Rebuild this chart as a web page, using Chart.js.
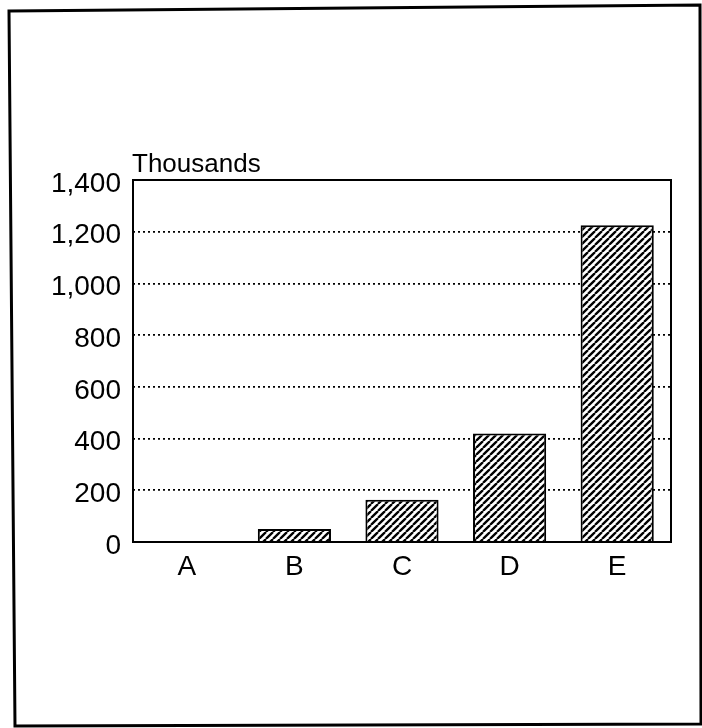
<!DOCTYPE html>
<html>
<head>
<meta charset="utf-8">
<script src="https://cdn.jsdelivr.net/npm/chart.js@4/dist/chart.umd.min.js"></script>
<style>
  html, body { margin: 0; padding: 0; background: #fff; }
  #wrap { width: 702px; height: 728px; position: relative; }
</style>
</head>
<body>
<div id="wrap"><canvas id="c" width="702" height="728"></canvas></div>
<script>
const categories = ['A', 'B', 'C', 'D', 'E'];
const values = [4, 50, 163, 420, 1225];
const yTicks = [0, 200, 400, 600, 800, 1000, 1200, 1400];
const unitLabel = 'Thousands';

function makeHatch() {
  const s = 7;
  const cv = document.createElement('canvas');
  cv.width = s; cv.height = s;
  const g = cv.getContext('2d');
  g.fillStyle = '#fff';
  g.fillRect(0, 0, s, s);
  g.strokeStyle = '#000';
  g.lineWidth = 2.3;
  g.beginPath();
  for (const k of [-s, 0, s]) {
    g.moveTo(k, s);
    g.lineTo(k + s, 0);
  }
  g.stroke();
  return g.createPattern(cv, 'repeat');
}

const FONT = "'Liberation Sans', Arial, sans-serif";

const decor = {
  id: 'decor',
  beforeDraw(chart) {
    const ctx = chart.ctx;
    ctx.save();
    ctx.fillStyle = '#fff';
    ctx.fillRect(0, 0, chart.width, chart.height);
    ctx.restore();
  },
  afterDraw(chart) {
    const ctx = chart.ctx;
    const a = chart.chartArea;
    ctx.save();
    // outer frame
    ctx.strokeStyle = '#000';
    ctx.lineWidth = 3;
    ctx.beginPath();
    ctx.moveTo(9, 11);
    ctx.lineTo(700, 5);
    ctx.lineTo(701, 724);
    ctx.lineTo(15, 726);
    ctx.closePath();
    ctx.stroke();
    // plot box
    ctx.lineWidth = 2;
    ctx.strokeRect(a.left, a.top, a.right - a.left, a.bottom - a.top);
    // unit label
    ctx.fillStyle = '#000';
    ctx.font = '26px ' + FONT;
    ctx.textAlign = 'left';
    ctx.textBaseline = 'alphabetic';
    ctx.fillText(unitLabel, a.left - 1, a.top - 8);
    ctx.restore();
  }
};

new Chart(document.getElementById('c'), {
  type: 'bar',
  data: {
    labels: categories,
    datasets: [{
      data: values,
      backgroundColor: makeHatch(),
      borderColor: '#000',
      borderWidth: 2,
      borderSkipped: 'start',
      barPercentage: 0.68,
      categoryPercentage: 1.0
    }]
  },
  options: {
    responsive: false,
    animation: false,
    devicePixelRatio: 1,
    layout: { padding: { left: 0, top: 180, right: 31, bottom: 0 } },
    plugins: { legend: { display: false }, tooltip: { enabled: false }, title: { display: false } },
    scales: {
      x: {
        grid: { display: false },
        border: { display: false },
        ticks: { color: '#000', font: { family: FONT, size: 28 }, padding: 0, maxRotation: 0 },
        afterFit(scale) { scale.height = 728 - 542; }
      },
      y: {
        min: 0,
        max: 1400,
        afterBuildTicks(scale) { scale.ticks = yTicks.map(v => ({ value: v })); },
        grid: { color: '#000', lineWidth: 1.7, drawTicks: false },
        border: { display: false, dash: [2, 3] },
        ticks: {
          color: '#000',
          font: { family: FONT, size: 28 },
          padding: 12,
          labelOffset: 4,
          callback: v => v.toLocaleString('en-US')
        },
        afterFit(scale) { scale.width = 133; }
      }
    }
  },
  plugins: [decor]
});
</script>
</body>
</html>
